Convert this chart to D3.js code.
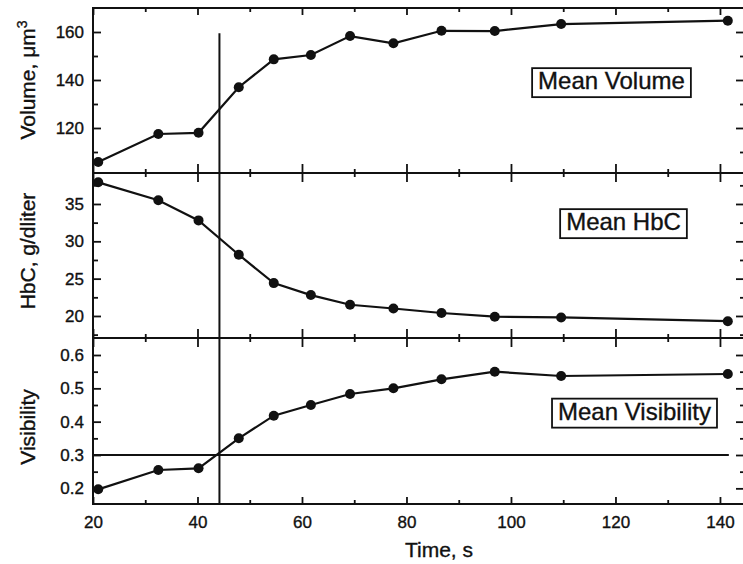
<!DOCTYPE html>
<html>
<head>
<meta charset="utf-8">
<script src="https://cdn.jsdelivr.net/npm/d3@7"></script>
<style>
  body { margin: 0; background: #fff; }
  svg { display: block; }
  text { font-family: Arial, "Liberation Sans", Helvetica, sans-serif; fill: #111; stroke: #111; stroke-width: 0.35px; }
</style>
</head>
<body>
<div id="chart"></div>
<script>
// data
var times = [21, 32.5, 40.2, 47.9, 54.6, 61.7, 69.2, 77.5, 86.7, 96.9, 109.6, 141.5];
var volume = [105.8, 117.5, 118, 137, 148.6, 150.4, 158.3, 155.3, 160.5, 160.4, 163.3, 164.7];
var hbc = [37.9, 35.5, 32.8, 28.2, 24.4, 22.8, 21.5, 21.0, 20.4, 19.9, 19.8, 19.3];
var visibility = [0.197, 0.255, 0.26, 0.35, 0.418, 0.45, 0.483, 0.50, 0.527, 0.55, 0.537, 0.543];

var timeTicks = [20, 40, 60, 80, 100, 120, 140];
var timeMinor = [30, 50, 70, 90, 110, 130];
var volTicks = [120, 140, 160];
var volMinor = [110, 130, 150];
var hbcTicks = [20, 25, 30, 35];
var hbcMinor = [17.5, 22.5, 27.5, 32.5, 37.5];
var visTicks = [0.2, 0.3, 0.4, 0.5, 0.6];
var visMinor = [0.25, 0.35, 0.45, 0.55];

var markerTime = 44.2;      // vertical line
var visThreshold = 0.3;     // horizontal line in the bottom panel

var width = 743, height = 564;
var left = 93, right = 744;

var svg = d3.select("#chart").append("svg")
    .attr("width", width)
    .attr("height", height);

var x = d3.scaleLinear().domain([20, 144.6]).range([left, right]);

var panels = [
    {values: volume, domain: [101.25, 170], range: [173, 8], ticks: volTicks, minor: volMinor,
     fmt: d3.format("d"), title: "Volume, \u03bcm", sup: "3", tcy: 80,
     label: "Mean Volume", lx: 611.5, ly: 80.5},
    {values: hbc, domain: [17.05, 39.15], range: [338, 173], ticks: hbcTicks, minor: hbcMinor,
     fmt: d3.format("d"), title: "HbC, g/dliter", tcy: 251,
     label: "Mean HbC", lx: 623.5, ly: 221.5},
    {values: visibility, domain: [0.153, 0.651], range: [504, 338], ticks: visTicks, minor: visMinor,
     fmt: d3.format(".1f"), title: "Visibility", tcy: 427,
     label: "Mean Visibility", lx: 634.5, ly: 411}
];

function styleAxis(g) {
    g.select(".domain").remove();
    g.selectAll(".tick line").attr("stroke", "#111").attr("stroke-width", 1.8);
    g.selectAll("text").style("font-size", "17px").attr("fill", "#111");
}

panels.forEach(function(p) {
    var y = d3.scaleLinear().domain(p.domain).range(p.range);
    p.y = y;

    // left axis, ticks pointing in
    svg.append("g")
        .attr("transform", "translate(" + left + ",0)")
        .call(d3.axisLeft(y).tickValues(p.ticks).tickFormat(p.fmt).tickSizeInner(-8).tickSizeOuter(0).tickPadding(9))
        .call(styleAxis);
    svg.append("g")
        .attr("transform", "translate(" + left + ",0)")
        .call(d3.axisLeft(y).tickValues(p.minor).tickFormat("").tickSizeInner(-5).tickSizeOuter(0))
        .call(styleAxis);

    // right axis
    svg.append("g")
        .attr("transform", "translate(" + right + ",0)")
        .call(d3.axisRight(y).tickValues(p.ticks).tickFormat("").tickSizeInner(-8).tickSizeOuter(0))
        .call(styleAxis);
    svg.append("g")
        .attr("transform", "translate(" + right + ",0)")
        .call(d3.axisRight(y).tickValues(p.minor).tickFormat("").tickSizeInner(-4).tickSizeOuter(0))
        .call(styleAxis);

    // frame
    svg.append("rect")
        .attr("x", left).attr("y", p.range[1])
        .attr("width", right - left).attr("height", p.range[0] - p.range[1])
        .attr("fill", "none").attr("stroke", "#111").attr("stroke-width", 2);

    // y title
    var t = svg.append("text")
        .attr("transform", "translate(35," + p.tcy + ") rotate(-90)")
        .attr("text-anchor", "middle")
        .style("font-size", "21px")
        .text(p.title);
    if (p.sup) {
        t.append("tspan").attr("dy", "-0.55em").style("font-size", "14px").text(p.sup);
    }

    // series
    var line = d3.line()
        .x(function(d, i) { return x(times[i]); })
        .y(function(d) { return y(d); });
    svg.append("path")
        .datum(p.values)
        .attr("d", line)
        .attr("fill", "none")
        .attr("stroke", "#111")
        .attr("stroke-width", 2.2);
    svg.selectAll(null)
        .data(p.values)
        .enter()
        .append("circle")
        .attr("cx", function(d, i) { return x(times[i]); })
        .attr("cy", function(d) { return y(d); })
        .attr("r", 5)
        .attr("fill", "#111");

    // label box
    var lab = svg.append("text")
        .attr("x", p.lx).attr("y", p.ly)
        .attr("dy", "0.36em")
        .attr("text-anchor", "middle")
        .style("font-size", "24px")
        .text(p.label);
    var bb = lab.node().getBBox();
    svg.append("rect")
        .attr("x", bb.x - 6).attr("y", bb.y + 1)
        .attr("width", bb.width + 12).attr("height", bb.height + 2)
        .attr("fill", "#fff").attr("stroke", "#111").attr("stroke-width", 1.8);
    lab.raise();
});

// x ticks: top frame (down), dividers (both ways), bottom frame (up)
function xTicks(yPos, size, vals) {
    svg.append("g")
        .attr("transform", "translate(0," + yPos + ")")
        .call(d3.axisBottom(x).tickValues(vals).tickFormat("").tickSizeInner(size).tickSizeOuter(0))
        .call(styleAxis);
}
xTicks(8, 7, timeTicks); xTicks(8, 4, timeMinor);
[173, 338].forEach(function(yy) {
    xTicks(yy, 9, timeTicks); xTicks(yy, -9, timeTicks);
    xTicks(yy, 4, timeMinor); xTicks(yy, -4, timeMinor);
});
svg.append("g")
    .attr("transform", "translate(0,504)")
    .call(d3.axisBottom(x).tickValues(timeTicks).tickFormat(d3.format("d")).tickSizeInner(-7).tickSizeOuter(0).tickPadding(12))
    .call(styleAxis);
xTicks(504, -4, timeMinor);

svg.append("text")
    .attr("x", 439).attr("y", 557)
    .attr("text-anchor", "middle")
    .style("font-size", "21px")
    .text("Time, s");

// reference lines
var yVol = panels[0].y, yVis = panels[2].y;
svg.append("line")
    .attr("x1", x(markerTime)).attr("x2", x(markerTime))
    .attr("y1", yVol(159.5)).attr("y2", yVis(0.153))
    .attr("stroke", "#111").attr("stroke-width", 2);
svg.append("line")
    .attr("x1", x(20)).attr("x2", x(141.7))
    .attr("y1", yVis(visThreshold)).attr("y2", yVis(visThreshold))
    .attr("stroke", "#111").attr("stroke-width", 2);
</script>
</body>
</html>
